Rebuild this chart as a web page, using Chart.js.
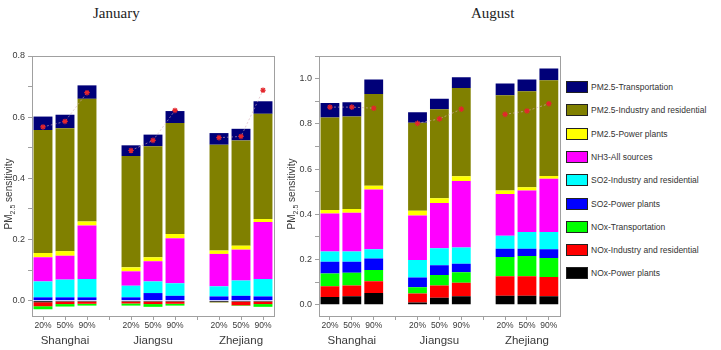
<!DOCTYPE html>
<html>
<head>
<meta charset="utf-8">
<script src="https://cdn.jsdelivr.net/npm/chart.js@4.4.1/dist/chart.umd.min.js"></script>
<style>
  body { margin: 0; background: #fff; width: 721px; height: 350px; position: relative; overflow: hidden;
         font-family: "Liberation Sans", Arial, sans-serif; }
  canvas { position: absolute; top: 0; }
  #janChart { left: 0; }
  #augChart { left: 280px; }
  .title { position: absolute; top: 5px; font: 15px "Liberation Serif", "Times New Roman", serif; color: #222; }
  .item { position: absolute; left: 566px; height: 12px; white-space: nowrap; font-size: 8.5px; color: #333; line-height: 12px; }
  .item span { display: inline-block; width: 20px; height: 10px; border: 1px solid #222; vertical-align: top; margin-right: 3px; }
</style>
</head>
<body>
<div class="title" style="left:93px">January</div>
<div class="title" style="left:471px">August</div>
<canvas id="janChart" width="290" height="350"></canvas>
<canvas id="augChart" width="285" height="350"></canvas>
<div id="legend"></div>
<script>
const categories = ['20%', '50%', '90%', '', '20%', '50%', '90%', '', '20%', '50%', '90%'];
const groups = ['Shanghai', 'Jiangsu', 'Zhejiang'];

// bottom to top
const sources = ['NOx-Power plants', 'NOx-Industry and residential', 'NOx-Transportation',
  'SO2-Power plants', 'SO2-Industry and residential', 'NH3-All sources',
  'PM2.5-Power plants', 'PM2.5-Industry and residential', 'PM2.5-Transportation'];
const colors = ['#000000', '#ff0000', '#00ff00', '#0000ff', '#00ffff', '#ff00ff', '#ffff00', '#808000', '#000078'];

// January
const noxPowerJan = [-0.005, -0.003, -0.003, null, -0.003, -0.003, -0.003, null, -0.004, -0.003, -0.003];
const noxIndJan = [-0.013, -0.008, -0.007, null, -0.006, -0.008, -0.007, null, -0.001, -0.012, -0.008];
const noxTransJan = [-0.010, -0.008, -0.006, null, -0.007, -0.009, -0.006, null, -0.001, -0.002, -0.009];
const so2PowerJan = [0.011, 0.011, 0.011, null, 0.011, 0.025, 0.016, null, 0.014, 0.016, 0.014];
const so2IndJan = [0.052, 0.058, 0.060, null, 0.038, 0.038, 0.041, null, 0.033, 0.050, 0.057];
const nh3Jan = [0.079, 0.078, 0.175, null, 0.047, 0.066, 0.147, null, 0.106, 0.101, 0.186];
const pmPowerJan = [0.014, 0.015, 0.013, null, 0.013, 0.013, 0.014, null, 0.011, 0.013, 0.010];
const pmIndJan = [0.402, 0.402, 0.401, null, 0.364, 0.363, 0.363, null, 0.346, 0.344, 0.344];
const pmTransJan = [0.044, 0.044, 0.044, null, 0.035, 0.038, 0.039, null, 0.038, 0.038, 0.041];
const starsJan = [0.568, 0.586, 0.680, null, 0.491, 0.524, 0.622, null, 0.533, 0.537, 0.688];

// August
const noxPowerAug = [0.034, 0.037, 0.052, null, 0.010, 0.031, 0.037, null, 0.040, 0.040, 0.037];
const noxIndAug = [0.048, 0.048, 0.052, null, 0.039, 0.054, 0.060, null, 0.086, 0.086, 0.085];
const noxTransAug = [0.056, 0.056, 0.049, null, 0.028, 0.046, 0.047, null, 0.085, 0.089, 0.085];
const so2PowerAug = [0.052, 0.049, 0.051, null, 0.043, 0.043, 0.037, null, 0.037, 0.033, 0.038];
const so2IndAug = [0.045, 0.045, 0.041, null, 0.078, 0.076, 0.072, null, 0.057, 0.074, 0.077];
const nh3Aug = [0.168, 0.172, 0.265, null, 0.196, 0.200, 0.294, null, 0.185, 0.183, 0.235];
const pmPowerAug = [0.016, 0.016, 0.016, null, 0.021, 0.021, 0.021, null, 0.015, 0.015, 0.012];
const pmIndAug = [0.409, 0.409, 0.406, null, 0.390, 0.394, 0.390, null, 0.421, 0.424, 0.424];
const pmTransAug = [0.064, 0.063, 0.064, null, 0.046, 0.046, 0.048, null, 0.052, 0.052, 0.052];
const starsAug = [0.874, 0.874, 0.869, null, 0.802, 0.822, 0.865, null, 0.842, 0.857, 0.889];

const janSeries = [noxPowerJan, noxIndJan, noxTransJan, so2PowerJan, so2IndJan, nh3Jan, pmPowerJan, pmIndJan, pmTransJan];
const augSeries = [noxPowerAug, noxIndAug, noxTransAug, so2PowerAug, so2IndAug, nh3Aug, pmPowerAug, pmIndAug, pmTransAug];

const axisGray = '#a0a0a0';
const textGray = '#3a3a3a';

// frame, group names and the PM2.5 axis title with subscript
const extras = {
  id: 'extras',
  afterDraw(chart, args, opts) {
    const ctx = chart.ctx;
    const a = chart.chartArea;
    ctx.save();
    ctx.strokeStyle = axisGray;
    ctx.lineWidth = 1;
    ctx.strokeRect(Math.round(a.left) + 0.5, Math.round(a.top) + 0.5, Math.round(a.right - a.left), Math.round(a.bottom - a.top));

    const x = chart.scales.x;
    ctx.fillStyle = textGray;
    ctx.font = '11.5px "Liberation Sans", Arial, sans-serif';
    ctx.textAlign = 'center';
    ctx.textBaseline = 'middle';
    groups.forEach((g, i) => {
      ctx.fillText(g, x.getPixelForValue(i * 4 + 1), 341);
    });

    ctx.translate(opts.titleX, (a.top + a.bottom) / 2 + 8);
    ctx.rotate(-Math.PI / 2);
    ctx.textAlign = 'left';
    ctx.textBaseline = 'alphabetic';
    const big = '10px "Liberation Sans", Arial, sans-serif';
    const small = '7px "Liberation Sans", Arial, sans-serif';
    ctx.font = big;
    const w1 = ctx.measureText('PM').width;
    const w3 = ctx.measureText(' sensitivity').width;
    ctx.font = small;
    const w2 = ctx.measureText('2.5').width;
    let sx = -(w1 + w2 + w3) / 2;
    ctx.font = big;
    ctx.fillText('PM', sx, 0);
    ctx.font = small;
    ctx.fillText('2.5', sx + w1, 3);
    ctx.font = big;
    ctx.fillText(' sensitivity', sx + w1 + w2, 0);
    ctx.restore();
  }
};

function makeChart(id, series, stars, yMax, left, right, titleX) {
  const datasets = series.map((vals, i) => ({
    type: 'bar',
    label: sources[i],
    data: vals,
    backgroundColor: colors[i],
    borderWidth: 0,
    barPercentage: 0.86,
    categoryPercentage: 1
  }));
  datasets.push({
    type: 'line',
    label: 'total',
    data: stars,
    order: -1,
    spanGaps: false,
    borderColor: 'rgba(215,175,185,0.6)',
    borderWidth: 1,
    borderDash: [2, 2],
    pointStyle: 'star',
    pointRadius: 2.8,
    pointBorderColor: '#e3262c',
    pointBackgroundColor: '#e3262c',
    pointBorderWidth: 1.2
  });

  const canvas = document.getElementById(id);
  return new Chart(canvas, {
    data: { labels: categories, datasets: datasets },
    plugins: [extras],
    options: {
      responsive: false,
      animation: false,
      events: [],
      layout: { padding: { top: 56, left: 0, right: canvas.width - right, bottom: 0 } },
      plugins: {
        legend: { display: false },
        tooltip: { enabled: false },
        extras: { titleX: titleX }
      },
      scales: {
        x: {
          stacked: true,
          offset: true,
          afterFit(s) { s.height = 34; },
          grid: { display: true, drawOnChartArea: false, offset: false, tickLength: 4, color: axisGray },
          border: { color: axisGray },
          ticks: {
            autoSkip: false, maxRotation: 0, padding: 1,
            color: textGray, font: { size: 8.5, family: '"Liberation Sans", Arial, sans-serif' }
          }
        },
        y: {
          stacked: true,
          min: -0.05,
          max: yMax,
          afterFit(s) { s.width = left; },
          grid: { display: true, drawOnChartArea: false, tickLength: 4, color: axisGray },
          border: { color: axisGray },
          ticks: {
            stepSize: 0.1,
            includeBounds: false,
            padding: 3,
            color: textGray,
            font: { size: 9, family: '"Liberation Sans", Arial, sans-serif' },
            callback: v => (Math.round(v * 10) % 2 === 0 ? v.toFixed(1) : '')
          }
        }
      }
    }
  });
}

makeChart('janChart', janSeries, starsJan, 0.8, 32, 274, 12);
makeChart('augChart', augSeries, starsAug, 1.1, 39, 282, 15);

// legend, top to bottom
const legend = document.getElementById('legend');
for (let i = sources.length - 1, k = 0; i >= 0; i--, k++) {
  const d = document.createElement('div');
  d.className = 'item';
  d.style.top = (81 + k * 23.3) + 'px';
  d.innerHTML = '<span style="background:' + colors[i] + '"></span>' + sources[i];
  legend.appendChild(d);
}
</script>
</body>
</html>
